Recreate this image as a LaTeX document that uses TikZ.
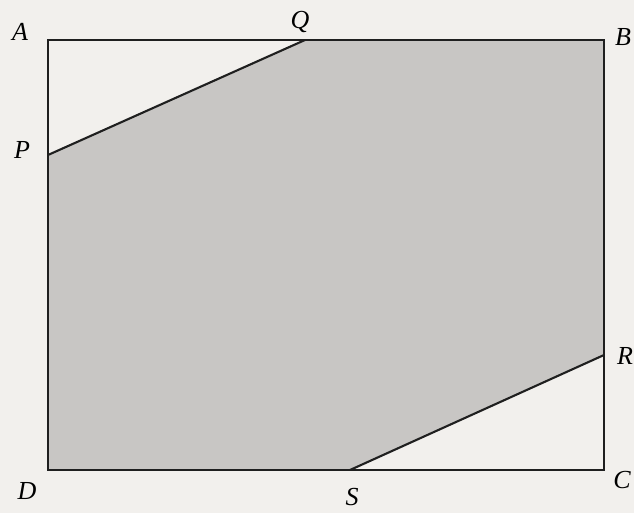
\documentclass[tikz,border=0pt]{standalone}
\usepackage{fontspec}
\setmainfont{Liberation Serif}
\begin{document}
\begin{tikzpicture}[x=1pt,y=-1pt,
  lab/.style={font=\fontsize{26}{30}\selectfont\itshape, inner sep=0pt},
  edge/.style={line width=2.1pt, black!88}]
\fill[fill={rgb,255:red,242;green,240;blue,237}] (0,0) rectangle (634,513);
\useasboundingbox (0,0) rectangle (634,513);
\coordinate (A) at (48,40);
\coordinate (B) at (604,40);
\coordinate (C) at (604,470);
\coordinate (D) at (48,470);
\coordinate (P) at (48,155);
\coordinate (Q) at (305,40);
\coordinate (R) at (604,355);
\coordinate (S) at (350,470);
\fill[fill={rgb,255:red,200;green,198;blue,196}] (P) -- (Q) -- (B) -- (R) -- (S) -- (D) -- cycle;
\draw[edge] (A) -- (B) -- (C) -- (D) -- cycle;
\draw[edge] (P) -- (Q);
\draw[edge] (R) -- (S);
\node[lab] (lA) at (20,32) {A};
\node[lab] (lB) at (623,37) {B};
\node[lab] (lC) at (622,480) {C};
\node[lab] (lD) at (27,491) {D};
\node[lab] (lP) at (22,150) {P};
\node[lab] (lQ) at (300,22) {Q};
\node[lab] (lR) at (625,356) {R};
\node[lab] (lS) at (352,497) {S};
\end{tikzpicture}
\end{document}
